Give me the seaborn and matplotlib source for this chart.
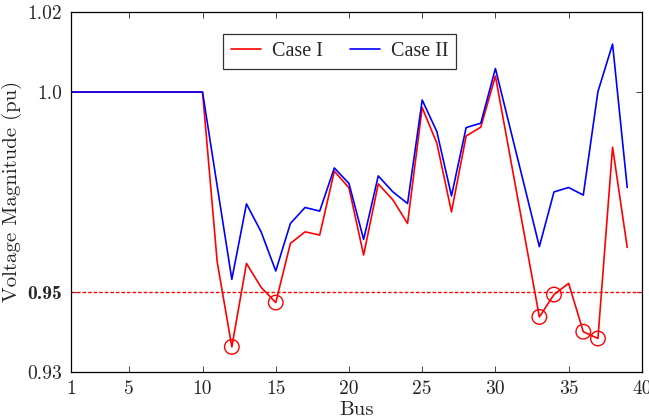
import numpy as np
import pandas as pd
import matplotlib
matplotlib.use("Agg")
import matplotlib.pyplot as plt
import seaborn as sns

buses = list(range(1, 40))
case1 = [1.0, 1.0, 1.0, 1.0, 1.0, 1.0, 1.0, 1.0, 1.0, 1.0,
         0.9575, 0.9362, 0.9571, 0.9511, 0.9473, 0.9621, 0.9650, 0.9642, 0.9802, 0.9760,
         0.9592, 0.9770, 0.9730, 0.9671, 0.9961, 0.9872, 0.9700, 0.9890, 0.9912, 1.0040,
         0.9839, 0.9638, 0.9437, 0.9493, 0.9521, 0.9400, 0.9383, 0.9862, 0.9611]
case2 = [1.0, 1.0, 1.0, 1.0, 1.0, 1.0, 1.0, 1.0, 1.0, 1.0,
         0.9765, 0.9531, 0.9720, 0.9650, 0.9552, 0.9671, 0.9711, 0.9702, 0.9810, 0.9771,
         0.9631, 0.9790, 0.9750, 0.9721, 0.9980, 0.9901, 0.9740, 0.9911, 0.9922, 1.0059,
         0.9910, 0.9762, 0.9613, 0.9750, 0.9761, 0.9742, 1.0001, 1.0120, 0.9761]
violation_buses = [12, 15, 33, 34, 36, 37]
limit = 0.95
x_ticks = [1, 5, 10, 15, 20, 25, 30, 35, 40]
y_ticks = [0.93, 0.95, 1.0, 1.02]
y_tick_labels = ["0.93", "0.95", "1.0", "1.02"]
series_names = ["Case I", "Case II"]

sns.set_style("ticks")
plt.rcParams["font.family"] = ["cmr10", "DejaVu Serif"]
plt.rcParams["mathtext.fontset"] = "cm"
plt.rcParams["axes.formatter.use_mathtext"] = True

df = pd.DataFrame({
    "Bus": buses * 2,
    "V": case1 + case2,
    "Series": [series_names[0]] * len(buses) + [series_names[1]] * len(buses),
})

fig = plt.figure(figsize=(6.49, 4.19), dpi=100)
ax = fig.add_axes([0.109, 0.113, 0.880, 0.858])

sns.lineplot(data=df, x="Bus", y="V", hue="Series",
             palette={"Case I": "#ff0000", "Case II": "#0000ff"},
             linewidth=1.2, ax=ax, legend=True)

ax.axhline(limit, color="#ff0000", linestyle=(0, (2.5, 1.5)), linewidth=1.0, zorder=1)

viol_df = pd.DataFrame({"Bus": violation_buses,
                        "V": [case1[b - 1] for b in violation_buses]})
sns.scatterplot(data=viol_df, x="Bus", y="V", marker="o", s=110,
                facecolors="none", edgecolor="#ff0000", linewidth=1.0, ax=ax,
                legend=False, zorder=5)

ax.set_xlim(1, 40)
ax.set_ylim(0.93, 1.02)
ax.set_xticks(x_ticks)
ax.set_xticklabels([str(t) for t in x_ticks])
ax.set_yticks(y_ticks)
ax.set_yticklabels(y_tick_labels)
ax.tick_params(direction="in", length=4, width=0.6, labelsize=14, top=True, right=True,
               pad=6)
for lbl in ax.get_yticklabels():
    if lbl.get_text() == "0.95":
        lbl.set_family(["cmb10", "DejaVu Serif"])
        lbl.set_fontweight("bold")
for s in ax.spines.values():
    s.set_linewidth(0.9)
    s.set_color("black")

ax.set_xlabel("Bus", fontsize=15, labelpad=2)
ax.set_ylabel("Voltage Magnitude (pu)", fontsize=15, labelpad=4)

handles, labels = ax.get_legend_handles_labels()
leg = ax.legend(handles, labels, ncol=2, loc="center", bbox_to_anchor=(0.471, 0.891),
                frameon=True, fancybox=False, edgecolor="black",
                prop={"family": "Liberation Serif", "size": 14.5},
                handlelength=1.5, handletextpad=0.55, columnspacing=1.3,
                borderpad=0.4)
leg.get_frame().set_linewidth(0.9)

fig.savefig("out.png", dpi=100)
